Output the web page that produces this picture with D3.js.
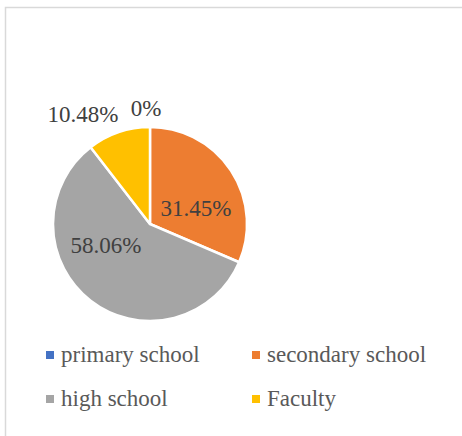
<!DOCTYPE html>
<html>
<head>
<meta charset="utf-8">
<script src="https://cdn.jsdelivr.net/npm/d3@7"></script>
</head>
<body style="margin:0">
<script>
// chart data
var categories = ["primary school", "secondary school", "high school", "Faculty"];
var values = [0, 31.45, 58.06, 10.48];
var labels = ["0%", "31.45%", "58.06%", "10.48%"];
var colors = ["#4472C4", "#ED7D31", "#A5A5A5", "#FFC000"];

var width = 462, height = 436;
var cx = 150, cy = 224, radius = 97;

var svg = d3.select("body").append("svg")
  .attr("width", width)
  .attr("height", height);

// chart frame (runs off the right and bottom edges)
svg.append("rect")
  .attr("x", 5.5)
  .attr("y", 7.5)
  .attr("width", width + 10)
  .attr("height", height + 10)
  .attr("fill", "none")
  .attr("stroke", "#d9d9d9")
  .attr("stroke-width", 1.5);

var data = categories.map(function(c, i) {
  return {name: c, value: values[i], label: labels[i], color: colors[i]};
});

var pie = d3.pie()
  .sort(null)
  .value(function(d) { return d.value; });

var arc = d3.arc()
  .innerRadius(0)
  .outerRadius(radius);

var arcs = pie(data);

svg.selectAll("path.slice")
  .data(arcs)
  .enter().append("path")
  .attr("class", "slice")
  .attr("transform", "translate(" + cx + "," + cy + ")")
  .attr("d", arc)
  .attr("fill", function(d) { return d.data.color; })
  .attr("stroke", "#fff")
  .attr("stroke-width", 2.5)
  .attr("stroke-linejoin", "round");

// data labels: big slices inside, small ones outside
function labelPos(d) {
  var inside = d.data.value > 20;
  var a, r;
  if (inside) {
    a = d.startAngle + 0.63 * (d.endAngle - d.startAngle);
    r = radius * 0.5;
  } else {
    a = (d.startAngle + d.endAngle) / 2;
    r = radius + 19;
  }
  return [cx + r * Math.sin(a), cy - r * Math.cos(a) + 8, inside];
}

svg.selectAll("text.lbl")
  .data(arcs)
  .enter().append("text")
  .attr("class", "lbl")
  .attr("x", function(d) {
    var p = labelPos(d);
    if (!p[2] && p[0] < cx - 10) return p[0] + 6;
    return p[0] - (p[2] ? 0 : 4);
  })
  .attr("y", function(d) { return labelPos(d)[1]; })
  .attr("text-anchor", function(d) {
    var p = labelPos(d);
    return (!p[2] && p[0] < cx - 10) ? "end" : "middle";
  })
  .style("font-family", "Liberation Serif")
  .attr("font-size", 23)
  .attr("fill", "#404040")
  .text(function(d) { return d.data.label; });

// legend, two columns
var legendX = [46, 252], legendY = [355, 399];

svg.selectAll("rect.key")
  .data(data)
  .enter().append("rect")
  .attr("class", "key")
  .attr("x", function(d, i) { return legendX[i % 2]; })
  .attr("y", function(d, i) { return legendY[Math.floor(i / 2)] - 4; })
  .attr("width", 8)
  .attr("height", 8)
  .attr("fill", function(d) { return d.color; });

svg.selectAll("text.key")
  .data(data)
  .enter().append("text")
  .attr("class", "key")
  .attr("x", function(d, i) { return legendX[i % 2] + 15; })
  .attr("y", function(d, i) { return legendY[Math.floor(i / 2)] + 7; })
  .style("font-family", "Liberation Serif")
  .attr("font-size", 23)
  .attr("fill", "#595959")
  .text(function(d) { return d.name; });
</script>
</body>
</html>
